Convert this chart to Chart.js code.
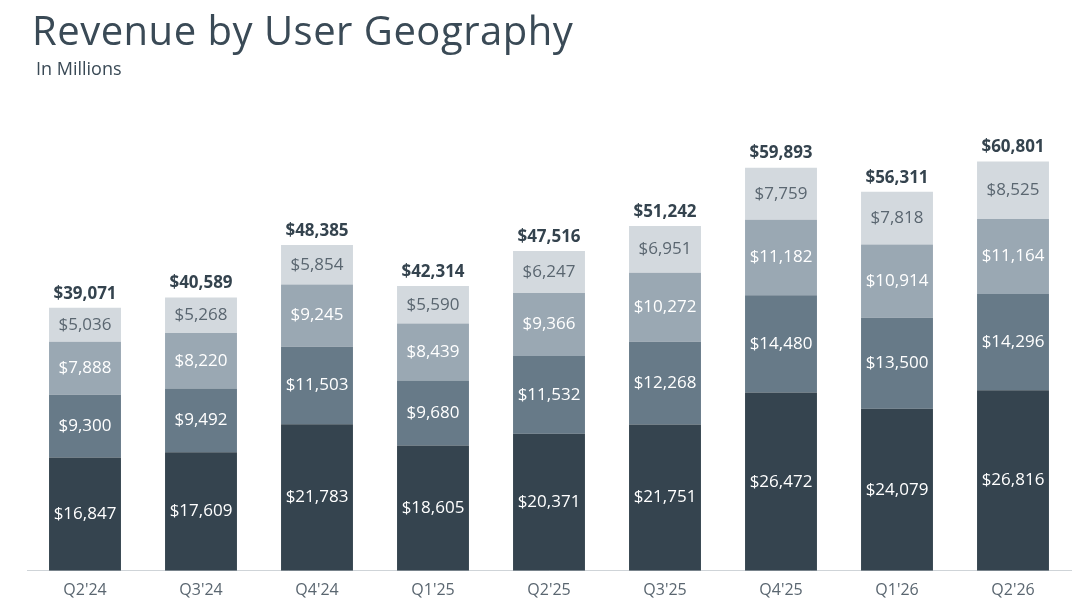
<!DOCTYPE html>
<html><head><meta charset="utf-8">
<script src="https://cdn.jsdelivr.net/npm/chart.js@4"></script>
<style>
body{margin:0;background:#fff;font-family:"Open Sans",sans-serif;}
#wrap{position:relative;width:1080px;height:604px;}
h1{position:absolute;left:32px;top:2px;margin:0;font-weight:400;font-size:40px;color:#3a4a56;letter-spacing:0.5px;z-index:2}
#sub{position:absolute;left:36px;top:56px;font-size:18px;color:#3a4a56;z-index:2}
canvas{position:absolute;left:0;top:0}
</style></head><body>
<div id="wrap"><h1>Revenue by User Geography</h1><div id="sub">In Millions</div>
<canvas id="c" width="1080" height="604"></canvas></div>
<script>
const categories=["Q2'24","Q3'24","Q4'24","Q1'25","Q2'25","Q3'25","Q4'25","Q1'26","Q2'26"];
const usCanada=[16847,17609,21783,18605,20371,21751,26472,24079,26816];
const europe=[9300,9492,11503,9680,11532,12268,14480,13500,14296];
const asiaPacific=[7888,8220,9245,8439,9366,10272,11182,10914,11164];
const restOfWorld=[5036,5268,5854,5590,6247,6951,7759,7818,8525];
const totals=[39071,40589,48385,42314,47516,51242,59893,56311,60801];
const fmt=v=>'$'+v.toLocaleString('en-US');
const labelPlugin={id:'lbl',afterDatasetsDraw(ch){
 const ctx=ch.ctx;ctx.save();ctx.textAlign='center';ctx.textBaseline='middle';
 ch.data.datasets.forEach((ds,di)=>{const m=ch.getDatasetMeta(di);
  m.data.forEach((b,i)=>{ctx.font='17px "Open Sans"';ctx.fillStyle=di==3?'#5a6670':'#fff';
   ctx.fillText(fmt(ds.data[i]),b.x,(b.y+b.base)/2);});});
 const m=ch.getDatasetMeta(3);ctx.font='bold 17px "Open Sans"';ctx.fillStyle='#34434e';
 m.data.forEach((b,i)=>ctx.fillText(fmt(totals[i]),b.x,b.y-14));
 ctx.restore();}};
new Chart(document.getElementById('c'),{type:'bar',
 data:{labels:categories,datasets:[
  {data:usCanada,backgroundColor:'#35444f'},
  {data:europe,backgroundColor:'#677a88'},
  {data:asiaPacific,backgroundColor:'#9aa8b3'},
  {data:restOfWorld,backgroundColor:'#d3d9de'}]},
 options:{responsive:false,animation:false,layout:{padding:{left:27,right:9,top:140,bottom:2}},
  datasets:{bar:{barPercentage:0.62,categoryPercentage:1,borderWidth:0}},
  plugins:{legend:{display:false},tooltip:{enabled:false}},
  scales:{x:{stacked:true,grid:{display:false},border:{color:'#cfd4d8'},ticks:{color:'#5a6670',font:{size:16,family:'"Open Sans"'},padding:2}},
   y:{stacked:true,display:false,min:0,max:64000}}},
 plugins:[labelPlugin]});
</script></body></html>
